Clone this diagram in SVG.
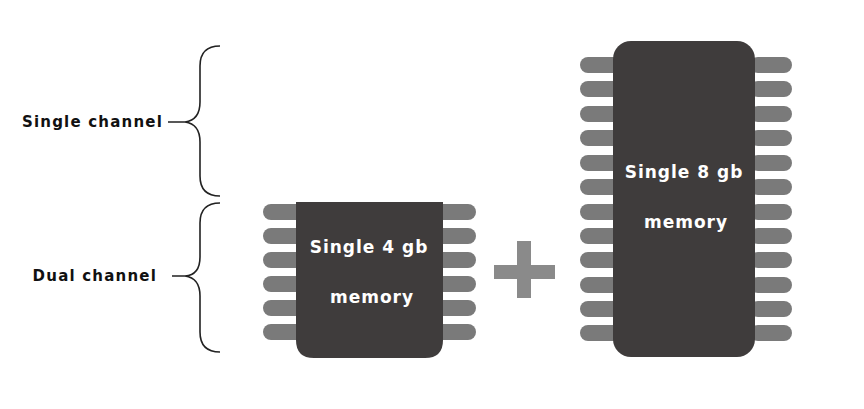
<svg xmlns="http://www.w3.org/2000/svg" width="864" height="409" viewBox="0 0 864 409">
<style>
.lbl{font-family:"DejaVu Sans","Liberation Sans",sans-serif;font-weight:bold;font-size:15px;fill:#111;letter-spacing:1.2px}
.chip{font-family:"DejaVu Sans","Liberation Sans",sans-serif;font-weight:bold;font-size:17px;fill:#fff;text-anchor:middle;letter-spacing:1px}
.pin{fill:#7a7a7a}
.body{fill:#3f3c3c}
.br{fill:none;stroke:#222;stroke-width:1.6}
</style>
<defs>
<rect id="p" class="pin" width="42" height="16" rx="8"/>
</defs>
<rect width="864" height="409" fill="#fff"/>
<g id="connectors">
<path class="br" d="M220 46 Q200 46 200 66 L200 102 Q200 120 185 122 L168 122 M185 122 Q200 124 200 142 L200 176 Q200 196 220 196"/>
<path class="br" d="M220 203 Q200 203 200 223 L200 257 Q200 275 185 276 L172 276 M185 276 Q200 278 200 296 L200 332 Q200 352 220 352"/>
</g>
<g id="label-single"><text class="lbl" x="163" y="127" text-anchor="end">Single channel</text></g>
<g id="label-dual"><text class="lbl" x="157" y="281" text-anchor="end">Dual channel</text></g>
<g id="chip4">
<use href="#p" x="263" y="204"/><use href="#p" x="263" y="228"/><use href="#p" x="263" y="252"/><use href="#p" x="263" y="276"/><use href="#p" x="263" y="300"/><use href="#p" x="263" y="324"/>
<use href="#p" x="434" y="204"/><use href="#p" x="434" y="228"/><use href="#p" x="434" y="252"/><use href="#p" x="434" y="276"/><use href="#p" x="434" y="300"/><use href="#p" x="434" y="324"/>
<path class="body" d="M296 202 L443 202 L443 340 Q443 358 425 358 L314 358 Q296 358 296 340 Z"/>
<text class="chip" x="369" y="253">Single 4 gb</text>
<text class="chip" x="372" y="303">memory</text>
</g>
<g id="plus">
<rect x="494" y="265" width="61" height="14" fill="#8a8a8a"/>
<rect x="517" y="241" width="14" height="57" fill="#8a8a8a"/>
</g>
<g id="chip8">
<g id="pins8">
<use href="#p" x="580" y="57"/><use href="#p" x="580" y="81"/><use href="#p" x="580" y="106"/><use href="#p" x="580" y="130"/><use href="#p" x="580" y="155"/><use href="#p" x="580" y="179"/><use href="#p" x="580" y="204"/><use href="#p" x="580" y="228"/><use href="#p" x="580" y="252"/><use href="#p" x="580" y="277"/><use href="#p" x="580" y="301"/><use href="#p" x="580" y="325"/>
<use href="#p" x="750" y="57"/><use href="#p" x="750" y="81"/><use href="#p" x="750" y="106"/><use href="#p" x="750" y="130"/><use href="#p" x="750" y="155"/><use href="#p" x="750" y="179"/><use href="#p" x="750" y="204"/><use href="#p" x="750" y="228"/><use href="#p" x="750" y="252"/><use href="#p" x="750" y="277"/><use href="#p" x="750" y="301"/><use href="#p" x="750" y="325"/>
</g>
<rect class="body" x="613" y="41" width="142" height="316" rx="18"/>
<text class="chip" x="684" y="178">Single 8 gb</text>
<text class="chip" x="686" y="228">memory</text>
</g>
</svg>
